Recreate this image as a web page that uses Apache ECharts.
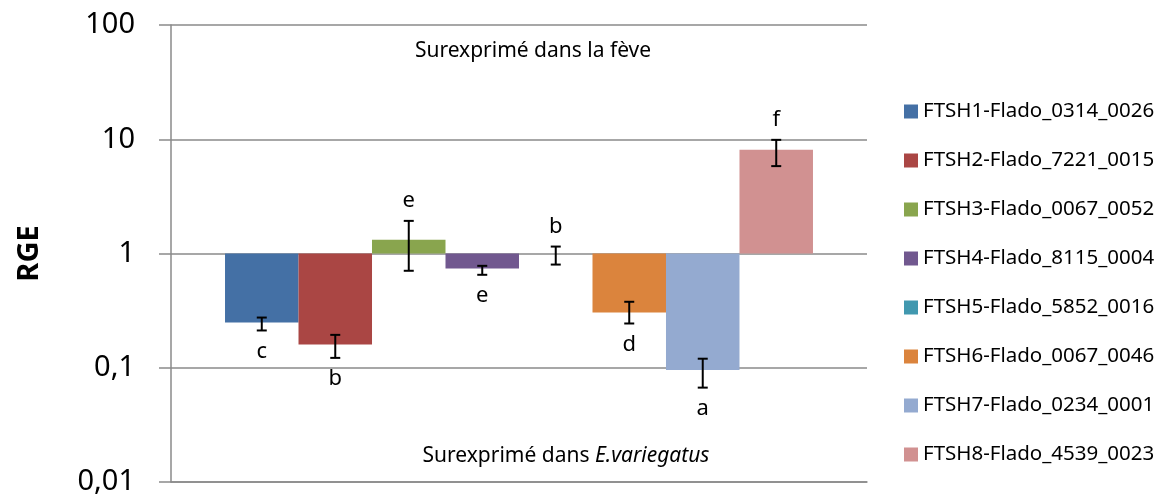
<html>
<head>
<meta charset="utf-8">
<title>RGE FTSH</title>
</head>
<body style="margin:0">
<div id="main" style="width:1167px;height:497px;"></div>
<script src="https://cdn.jsdelivr.net/npm/echarts@6/dist/echarts.min.js"></script>
<script>
var genes = ['FTSH1-Flado_0314_0026', 'FTSH2-Flado_7221_0015', 'FTSH3-Flado_0067_0052', 'FTSH4-Flado_8115_0004',
	'FTSH5-Flado_5852_0016', 'FTSH6-Flado_0067_0046', 'FTSH7-Flado_0234_0001', 'FTSH8-Flado_4539_0023'];
var rge = [0.249, 0.160, 1.32, 0.739, 1.0, 0.305, 0.0955, 8.08];
var errLow = [0.212, 0.122, 0.706, 0.651, 0.80, 0.244, 0.067, 5.82];
var errHigh = [0.275, 0.194, 1.93, 0.780, 1.15, 0.378, 0.120, 9.88];
var letters = ['c', 'b', 'e', 'e', 'b', 'd', 'a', 'f'];
var colors = ['#4470a5', '#aa4644', '#89a54e', '#71588f', '#4198af', '#db843d', '#94aad0', '#d19191'];

var chart = echarts.init(document.getElementById('main'));
var font = '"Noto Sans", sans-serif';
var gray = '#8a8a8a';

// une barre par gène, posées côte à côte sur un axe x numérique (0..7)
var series = [];
for (var i = 0; i < genes.length; i++) {
	series.push({
		name: genes[i],
		type: 'bar',
		data: [[i, rge[i]]],
		barWidth: 73.5,
		barGap: '-100%',
		itemStyle: {color: colors[i]}
	});
}

// barres d'erreur + lettres
var errData = [];
for (var j = 0; j < genes.length; j++) {
	errData.push([j, errLow[j], errHigh[j], rge[j] >= 1 ? 1 : -1]);
}
series.push({
	type: 'custom',
	name: 'err',
	data: errData,
	z: 10,
	renderItem: function (params, api) {
		var lo = api.coord([api.value(0), api.value(1)]);
		var hi = api.coord([api.value(0), api.value(2)]);
		var up = api.value(3) > 0;
		var x = lo[0], cap = 5;
		var ty = up ? hi[1] - 20 : lo[1] + 21;
		return {
			type: 'group',
			children: [
				{type: 'line', shape: {x1: x, y1: lo[1], x2: x, y2: hi[1]}, style: {stroke: '#000', lineWidth: 2}},
				{type: 'line', shape: {x1: x - cap, y1: lo[1], x2: x + cap, y2: lo[1]}, style: {stroke: '#000', lineWidth: 2}},
				{type: 'line', shape: {x1: x - cap, y1: hi[1], x2: x + cap, y2: hi[1]}, style: {stroke: '#000', lineWidth: 2}},
				{type: 'text', x: x, y: ty, style: {text: letters[params.dataIndex], fill: '#000', font: '22px ' + font, align: 'center', verticalAlign: 'middle'}}
			]
		};
	}
});

option = {
	animation: false,
	grid: {left: 171, right: 300, top: 25, bottom: 15, outerBoundsMode: 'none'},
	legend: {
		orient: 'vertical',
		left: 899,
		top: 96,
		itemWidth: 14,
		itemHeight: 14,
		itemGap: 28,
		icon: 'rect',
		data: genes,
		textStyle: {fontFamily: font, fontSize: 20.5, color: '#000', lineHeight: 14}
	},
	xAxis: {
		type: 'value',
		min: -1.235,
		max: 8.235,
		splitLine: {show: false},
		axisTick: {show: false},
		axisLabel: {show: false},
		axisLine: {show: true, onZero: false, lineStyle: {color: gray, width: 1.5}}
	},
	yAxis: {
		type: 'log',
		logBase: 10,
		min: 0.01,
		max: 100,
		splitNumber: 4,
		name: 'RGE',
		nameLocation: 'middle',
		nameRotate: 90,
		nameGap: 127,
		nameMoveOverlap: false,
		nameTextStyle: {fontFamily: font, fontSize: 29, fontWeight: 'bold', color: '#000'},
		axisLine: {show: true, onZero: false, lineStyle: {color: gray, width: 1.5}},
		axisTick: {show: true, length: 12, lineStyle: {color: gray, width: 1.5}},
		splitLine: {show: true, lineStyle: {color: gray, width: 1.5}},
		axisLabel: {
			margin: 36,
			fontFamily: font,
			fontSize: 29,
			color: '#000',
			formatter: function (v) { return String(+v.toPrecision(3)).replace('.', ','); }
		}
	},
	graphic: [
		{type: 'text', x: 533, y: 51, style: {text: 'Surexprimé dans la fève', font: '21px ' + font, fill: '#000', align: 'center', verticalAlign: 'middle'}},
		{type: 'text', x: 566, y: 456, style: {
			text: '{n|Surexprimé dans }{i|E.variegatus}', align: 'center', verticalAlign: 'middle',
			rich: {
				n: {fontFamily: font, fontSize: 21, fill: '#000'},
				i: {fontFamily: font, fontSize: 21, fontStyle: 'italic', fill: '#000'}
			}
		}}
	],
	series: series
};

chart.setOption(option);
</script>
</body>
</html>
